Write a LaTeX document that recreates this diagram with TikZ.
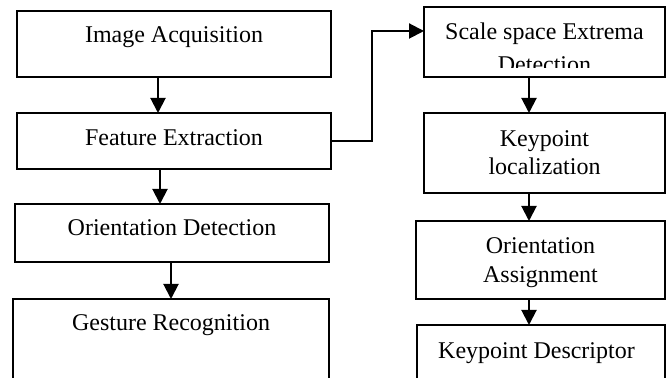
\documentclass[tikz,border=0pt]{standalone}
\usepackage{fontspec}
\setmainfont{Liberation Serif}
\usetikzlibrary{arrows.meta,calc}
\begin{document}
\begin{tikzpicture}[x=0.5pt,y=-0.5pt,
  box/.style={draw,line width=0.8pt,rectangle,inner sep=0pt,outer sep=0pt},
  lbl/.style={anchor=base,inner sep=0pt,font=\fontsize{12pt}{14pt}\selectfont},
  arr/.style={line width=1pt,-{Triangle[width=7.5pt,length=7.5pt]}},
  ln/.style={line width=1pt}]
\useasboundingbox (0,0) rectangle (670,378);
\clip (0,0) rectangle (670,378);
% left column boxes
\node[box,minimum width=157pt,minimum height=33pt] (b1) at (174,44) {};
\node[box,minimum width=157pt,minimum height=28pt] (b2) at (174,141) {};
\node[box,minimum width=157pt,minimum height=29pt] (b3) at (172,233) {};
\node[box,minimum width=158pt,minimum height=60.5pt] (b4) at (171,359.5) {};
% right column boxes
\node[box,minimum width=120.5pt,minimum height=35pt] (b5) at (544.5,42) {};
\node[box,minimum width=120.5pt,minimum height=40pt] (b6) at (544.5,153) {};
\node[box,minimum width=124.5pt,minimum height=39pt] (b7) at (540.5,260) {};
\node[box,minimum width=124pt,minimum height=47.5pt] (b8) at (541,372.5) {};
% labels
\node[lbl] (t1) at (174,43) {Image Acquisition};
\node[lbl] (t2) at (174,146) {Feature Extraction};
\node[lbl] (t3) at (172,236) {Orientation Detection};
\node[lbl] (t4) at (171,331) {Gesture Recognition};
\node[lbl] (t5) at (544.5,40) {Scale space Extrema};
\begin{scope}
\clip (424,8) rectangle (665,68);
\node[lbl] (t5b) at (544.5,73) {Detection};
\end{scope}
\node[lbl] (t6) at (544.5,147) {Keypoint};
\node[lbl] (t6b) at (544.5,175) {localization};
\node[lbl] (t7) at (540.5,254) {Orientation};
\node[lbl] (t7b) at (540.5,283) {Assignment};
\node[lbl] (t8) at (536.5,359) {Keypoint Descriptor};
% connector x positions
\coordinate (xa) at (158,0);
\coordinate (xb) at (160,0);
\coordinate (xc) at (171,0);
\coordinate (xr) at (529,0);
\coordinate (elbow) at (372,31);
% connectors
\draw[arr] (b1.south -| xa) -- (b2.north -| xa);
\draw[arr] (b2.south -| xb) -- (b3.north -| xb);
\draw[arr] (b3.south -| xc) -- (b4.north -| xc);
\draw[arr] (b2.east) -| (elbow) -- (b5.west |- elbow);
\draw[arr] (b5.south -| xr) -- (b6.north -| xr);
\draw[arr] (b6.south -| xr) -- (b7.north -| xr);
\draw[arr] (b7.south -| xr) -- (b8.north -| xr);
\end{tikzpicture}
\end{document}
